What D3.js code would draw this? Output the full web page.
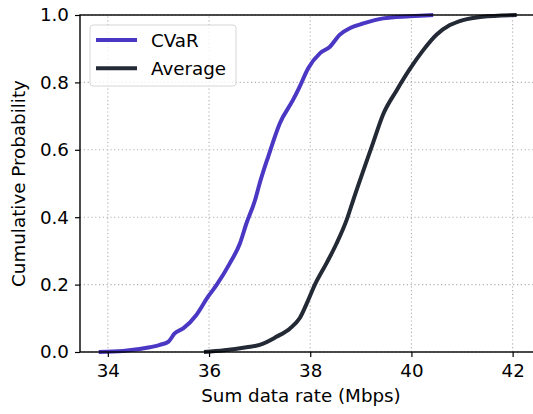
<!DOCTYPE html>
<html lang="en">
<head>
<meta charset="utf-8">
<script src="https://cdn.jsdelivr.net/npm/d3@7"></script>
<style>
  body { margin: 0; background: #fff; }
  text { font-family: "DejaVu Sans", sans-serif; fill: #000; }
</style>
</head>
<body>
<script>
// CDF curves (rate in Mbps, cumulative probability)
var cvarRate = [33.82, 34.3, 34.83, 35.03, 35.20, 35.32, 35.49, 35.75, 35.98, 36.15, 36.41, 36.61, 36.74, 36.91, 37.0, 37.17, 37.40, 37.66, 37.79, 37.96, 38.19, 38.39, 38.58, 38.80, 39.05, 39.44, 39.97, 40.43];
var cvarProb = [0.0, 0.003, 0.014, 0.021, 0.031, 0.055, 0.070, 0.110, 0.164, 0.199, 0.263, 0.322, 0.382, 0.451, 0.500, 0.580, 0.679, 0.748, 0.787, 0.842, 0.886, 0.906, 0.941, 0.962, 0.975, 0.990, 0.996, 1.0];

var avgRate = [35.90, 36.3, 36.74, 37.0, 37.33, 37.60, 37.79, 37.96, 38.09, 38.32, 38.52, 38.72, 38.85, 39.24, 39.44, 39.71, 39.97, 40.23, 40.50, 40.76, 41.02, 41.40, 42.08];
var avgProb = [0.0, 0.005, 0.014, 0.021, 0.045, 0.070, 0.100, 0.154, 0.199, 0.263, 0.322, 0.392, 0.451, 0.620, 0.705, 0.777, 0.840, 0.895, 0.942, 0.970, 0.985, 0.995, 1.0];

var seriesNames = ["CVaR", "Average"];
var seriesColors = ["#4a37c3", "#232a36"];
var xTicks = [34, 36, 38, 40, 42];
var yTicks = [0.0, 0.2, 0.4, 0.6, 0.8, 1.0];

var w = 533, h = 414;
var svg = d3.select("body").append("svg")
  .attr("width", w).attr("height", h);

var x = d3.scaleLinear().domain([33.45, 42.45]).range([80, 535.4]);
var y = d3.scaleLinear().domain([0, 1]).range([352, 15]);

// grid
svg.append("g").selectAll("line").data(xTicks).enter().append("line")
  .attr("x1", d => x(d)).attr("x2", d => x(d))
  .attr("y1", y(0)).attr("y2", y(1))
  .attr("stroke", "#b0b0b0").attr("stroke-width", 1.1)
  .attr("stroke-dasharray", "1.2,2.6");
svg.append("g").selectAll("line").data(yTicks).enter().append("line")
  .attr("x1", x.range()[0]).attr("x2", x.range()[1])
  .attr("y1", d => y(d)).attr("y2", d => y(d))
  .attr("stroke", "#b0b0b0").attr("stroke-width", 1.1)
  .attr("stroke-dasharray", "1.2,2.6");

// curves
var line = d3.line().x(d => x(d[0])).y(d => y(d[1])).curve(d3.curveMonotoneX);
var series = [d3.zip(cvarRate, cvarProb), d3.zip(avgRate, avgProb)];
series.forEach(function(s, i) {
  svg.append("path").datum(s)
    .attr("d", line)
    .attr("fill", "none")
    .attr("stroke", seriesColors[i])
    .attr("stroke-width", 4)
    .attr("stroke-linejoin", "round")
    .attr("stroke-linecap", "butt");
});

// axes
var xAxis = d3.axisBottom(x).tickValues(xTicks).tickFormat(d3.format("d"))
  .tickSize(5).tickPadding(6);
var yAxis = d3.axisLeft(y).tickValues(yTicks).tickFormat(d3.format(".1f"))
  .tickSize(5).tickPadding(6);

var gx = svg.append("g").attr("transform", "translate(0," + y(0) + ")").call(xAxis);
var gy = svg.append("g").attr("transform", "translate(" + x.range()[0] + ",0)").call(yAxis);
[gx, gy].forEach(function(g) {
  g.select(".domain").remove();
  g.selectAll("line").attr("stroke", "#000").attr("stroke-width", 1.2);
  g.selectAll("text").style("font-size", "18.3px").attr("fill", "#000");
});
gx.selectAll("text").attr("dy", "0.75em");

// frame
svg.append("rect")
  .attr("x", x.range()[0]).attr("y", y(1))
  .attr("width", x.range()[1] - x.range()[0]).attr("height", y(0) - y(1))
  .attr("fill", "none").attr("stroke", "#000").attr("stroke-width", 1.4);

// axis labels
svg.append("text")
  .attr("x", 301).attr("y", 402)
  .attr("text-anchor", "middle").style("font-size", "18.3px")
  .text("Sum data rate (Mbps)");
svg.append("text")
  .attr("transform", "translate(25," + ((y(0) + y(1)) / 2) + ") rotate(-90)")
  .attr("text-anchor", "middle").style("font-size", "18.3px")
  .text("Cumulative Probability");

// legend
var leg = svg.append("g");
leg.append("rect")
  .attr("x", 90).attr("y", 25).attr("width", 146).attr("height", 61)
  .attr("rx", 3).attr("fill", "#fff").attr("fill-opacity", 0.8)
  .attr("stroke", "#d6d6d6").attr("stroke-width", 1);
seriesNames.forEach(function(name, i) {
  var ly = 40 + i * 28.3;
  leg.append("line")
    .attr("x1", 96).attr("x2", 137).attr("y1", ly).attr("y2", ly)
    .attr("stroke", seriesColors[i]).attr("stroke-width", 4);
  leg.append("text")
    .attr("x", 151).attr("y", ly + 6.5)
    .style("font-size", "18.3px")
    .text(name);
});
</script>
</body>
</html>
